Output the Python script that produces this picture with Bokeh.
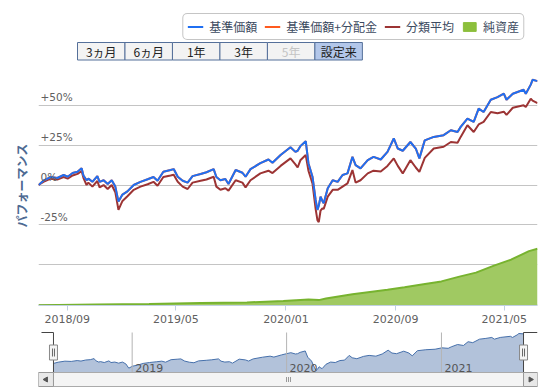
import math
import pandas as pd
from bokeh.plotting import figure
from bokeh.models import (Range1d, FixedTicker, Legend, LegendItem, Title, ColumnDataSource, Grid)
from bokeh.layouts import column
from bokeh.embed import file_html
from bokeh.resources import INLINE
from bokeh.core.properties import value

# ---------------- data ----------------
series_names = ["基準価額", "基準価額+分配金", "分類平均", "純資産"]
range_buttons = ["3ヵ月", "6ヵ月", "1年", "3年", "5年", "設定来"]
range_button_enabled = [True, True, True, True, False, True]
range_button_selected = "設定来"

perf_dates = [
    "2018-06-29", "2018-07-10", "2018-07-26", "2018-08-10", "2018-08-24", "2018-09-02",
    "2018-09-13", "2018-09-24", "2018-10-03", "2018-10-07", "2018-10-14", "2018-10-18",
    "2018-10-27", "2018-11-07", "2018-11-12", "2018-11-21", "2018-11-30", "2018-12-09",
    "2018-12-17", "2018-12-24", "2019-01-02", "2019-01-13", "2019-01-27", "2019-02-11",
    "2019-02-27", "2019-03-12", "2019-03-21", "2019-04-03", "2019-04-19", "2019-04-26",
    "2019-05-05", "2019-05-16", "2019-05-27", "2019-06-07", "2019-06-25", "2019-07-08",
    "2019-07-24", "2019-07-30", "2019-08-08", "2019-08-19", "2019-08-26", "2019-09-11",
    "2019-09-26", "2019-10-03", "2019-10-14", "2019-11-05", "2019-11-23", "2019-12-02",
    "2019-12-20", "2020-01-11", "2020-01-22", "2020-01-27", "2020-02-02", "2020-02-14",
    "2020-02-20", "2020-02-29", "2020-03-07", "2020-03-11", "2020-03-14", "2020-03-18",
    "2020-03-22", "2020-03-25", "2020-04-03", "2020-04-14", "2020-04-25", "2020-05-06",
    "2020-05-17", "2020-05-28", "2020-06-04", "2020-06-15", "2020-07-01", "2020-07-14",
    "2020-07-30", "2020-08-14", "2020-08-28", "2020-09-06", "2020-09-17", "2020-10-04",
    "2020-10-16", "2020-10-24", "2020-11-05", "2020-11-25", "2020-12-17", "2021-01-02",
    "2021-01-17", "2021-01-24", "2021-02-08", "2021-02-22", "2021-03-05", "2021-03-16",
    "2021-04-01", "2021-04-16", "2021-04-30", "2021-05-06", "2021-05-20", "2021-06-13",
    "2021-06-18", "2021-06-29", "2021-07-03", "2021-07-14",
]
# 基準価額 performance (%)
base_price_perf = [
    0.0, 2.7, 5.0, 4.4, 6.3, 5.2,
    7.5, 8.3, 10.6, 6.0, 3.0, 4.0,
    2.0, 5.6, 2.0, 3.0, 0.6, 3.0,
    -1.0, -10.4, -6.0, -4.0, 0.0, 2.0,
    3.6, 5.0, 2.7, 8.3, 9.4, 10.0,
    5.2, 2.7, 1.5, 5.6, 6.9, 8.0,
    10.0, 5.0, 3.0, 3.8, 0.6, 9.4,
    7.7, 5.2, 10.0, 13.7, 16.0, 14.0,
    18.8, 23.7, 20.8, 21.5, 24.4, 27.5,
    13.7, 5.2, -9.4, -15.6, -13.0, -7.3,
    -10.0, -11.5, -2.0, 3.0, 2.0, 6.3,
    7.3, 17.7, 12.5, 10.4, 15.6, 17.7,
    16.0, 20.8, 29.2, 22.9, 21.5, 27.0,
    22.9, 16.7, 28.0, 30.2, 31.3, 34.4,
    33.3, 36.5, 41.7, 39.6, 47.9, 45.8,
    53.5, 55.2, 57.3, 53.5, 57.3, 59.8,
    57.3, 63.0, 66.0, 65.2,
]
# 基準価額+分配金 (no distributions paid: same as 基準価額, hidden beneath it)
base_plus_dist_perf = list(base_price_perf)
# 分類平均 performance (%)
category_avg_perf = [
    0.0, 2.0, 4.0, 3.5, 5.0, 4.0,
    6.0, 7.0, 8.8, 4.5, 0.0, 1.5,
    -1.0, 2.5, -1.5, 0.0, -2.5, 0.0,
    -4.5, -15.6, -10.0, -7.0, -3.0, -1.0,
    0.5, 2.0, -0.5, 5.0, 6.0, 6.5,
    2.0, -1.0, -2.5, 1.5, 2.7, 3.5,
    5.2, -1.0, -3.0, -2.0, -3.5, 3.0,
    1.5, -1.5, 3.0, 7.3, 9.0, 7.5,
    12.0, 16.7, 13.0, 11.0, 15.5, 18.8,
    9.0, 1.0, -15.0, -22.0, -23.3, -16.0,
    -14.6, -15.0, -7.3, -3.0, -3.0, -1.0,
    1.0, 9.4, 1.5, 3.0, 7.3, 9.0,
    8.5, 12.0, 16.7, 12.0, 7.3, 15.6,
    11.0, 8.3, 17.0, 22.9, 24.0, 27.0,
    26.5, 30.2, 37.5, 33.3, 38.0, 39.6,
    45.8, 45.0, 46.0, 44.0, 48.5, 50.0,
    49.0, 54.2, 53.0, 51.4,
]

net_asset_dates = [
    "2018-06-29", "2018-11-05", "2019-03-02", "2019-06-25", "2019-10-06", "2019-12-26",
    "2020-02-02", "2020-02-20", "2020-03-14", "2020-03-30", "2020-05-28", "2020-08-14",
    "2020-09-21", "2020-11-02", "2020-12-12", "2021-01-21", "2021-02-27", "2021-04-08",
    "2021-05-16", "2021-06-25", "2021-07-14",
]
net_assets = [  # 純資産 (億円, estimated)
    1, 5, 8, 12, 15, 23,
    28, 30, 27, 35, 56, 79,
    92, 107, 121, 145, 165, 200,
    230, 273, 285,
]

x_tick_dates = ["2018-09-01", "2019-05-01", "2020-01-01", "2020-09-01", "2021-05-01"]
x_tick_labels = ["2018/09", "2019/05", "2020/01", "2020/09", "2021/05"]
y_tick_values = [-25, 0, 25, 50]
y_tick_labels = ["-25%", "0%", "+25%", "+50%"]
y_grid_values = [-75, -50, -25, 0, 25, 50, 75]
nav_year_dates = ["2019-01-01", "2020-01-01", "2021-01-01"]
nav_year_labels = ["2019", "2020", "2021"]

# ---------------- styles ----------------
BLUE = "#1f6ff2"
ORANGE = "#ff5a1e"
BROWN = "#9c3434"
GREEN_FILL = "#a0c962"
GREEN_LINE = "#77b32f"
JP_NAME = "Noto Sans CJK JP"
JP = value(JP_NAME)
NUM = value("DejaVu Sans")
W = 550


def ms(d):
    return pd.Timestamp(d).value / 1e6


dates = pd.to_datetime(perf_dates)
t0, t1 = dates[0], dates[-1]

# ---------------- header (legend + range buttons) ----------------
HH = 61
h = figure(width=W, height=HH, x_range=Range1d(0, W), y_range=Range1d(HH, 0),
           min_border_left=0, min_border_right=0, min_border_top=0, min_border_bottom=0,
           toolbar_location=None, output_backend="svg",
           x_axis_location=None, y_axis_location=None)
h.grid.visible = False
h.outline_line_color = None

bw = 52.33
bx0 = 43
centers = [bx0 + bw * (i + 0.5) for i in range(len(range_buttons))]
fills = ["#b3c7ea" if b == range_button_selected else "#f3f3f3" for b in range_buttons]
tcols = ["#222222" if en else "#c4c4c4" for en in range_button_enabled]
h.rect(x=centers, y=[50.75] * len(centers), width=bw, height=17.5,
       fill_color=fills, line_color="#55709a", line_width=1)
h.text(x=centers, y=[51.2] * len(centers), text=range_buttons, text_align="center",
       text_baseline="middle", text_font=JP, text_font_size="12px", text_color=tcols)

# legend sample glyphs (kept outside the visible header range)
r1 = h.line(x=[-60, -50], y=[-60, -60], line_color=BLUE, line_width=2)
r2 = h.line(x=[-60, -50], y=[-60, -60], line_color=ORANGE, line_width=2)
r3 = h.line(x=[-60, -50], y=[-60, -60], line_color=BROWN, line_width=2)
r4 = h.quad(left=[-60], right=[-50], top=[-60], bottom=[-70],
            fill_color="#8cbf3c", line_color="#8cbf3c")
legend = Legend(items=[LegendItem(label=series_names[0], renderers=[r1]),
                       LegendItem(label=series_names[1], renderers=[r2]),
                       LegendItem(label=series_names[2], renderers=[r3]),
                       LegendItem(label=series_names[3], renderers=[r4])],
                orientation="horizontal", location="top_right", margin=13,
                padding=4, spacing=7, glyph_width=16, glyph_height=11,
                label_standoff=6, label_height=12, label_width=10,
                label_text_font=JP_NAME, label_text_font_size="12px", label_text_color="#3c4a60",
                border_line_color="#8c8c8c", border_line_width=1,
                background_fill_color="white", background_fill_alpha=1.0)
try:
    legend.border_radius = 5
except Exception:
    pass
h.add_layout(legend)

# ---------------- main chart ----------------
m = figure(width=W, height=267, x_axis_type="datetime",
           x_range=Range1d(t0, t1), y_range=Range1d(-75.6, 75),
           min_border_left=38, min_border_right=13, min_border_top=4, min_border_bottom=22,
           toolbar_location=None, output_backend="svg", y_axis_location=None)
m.outline_line_color = None
m.grid.visible = False
m.add_layout(Grid(dimension=1, ticker=FixedTicker(ticks=y_grid_values),
                  grid_line_color="#c4c4c4", grid_line_width=1))
m.extra_y_ranges = {"assets": Range1d(0, 1205)}

asset_src = ColumnDataSource(dict(date=pd.to_datetime(net_asset_dates), assets=net_assets,
                                  zero=[0] * len(net_assets)))
m.varea(x="date", y1="zero", y2="assets", source=asset_src, y_range_name="assets",
        fill_color=GREEN_FILL)
m.line(x="date", y="assets", source=asset_src, y_range_name="assets",
       line_color=GREEN_LINE, line_width=2)

perf_src = ColumnDataSource(dict(date=dates, base=base_price_perf,
                                 dist=base_plus_dist_perf, cat=category_avg_perf))
m.line(x="date", y="cat", source=perf_src, line_color=BROWN, line_width=2)
m.line(x="date", y="dist", source=perf_src, line_color=ORANGE, line_width=2)
m.line(x="date", y="base", source=perf_src, line_color=BLUE, line_width=2)

ylab_src = ColumnDataSource(dict(x=[t0] * len(y_tick_values), y=y_tick_values, t=y_tick_labels))
m.text(x="x", y="y", text="t", source=ylab_src, x_offset=2, y_offset=-2,
       text_baseline="bottom", text_align="left", text_font=NUM,
       text_font_size="10.5px", text_color="#606060")

m.xaxis.ticker = FixedTicker(ticks=[ms(d) for d in x_tick_dates])
m.xaxis.major_label_overrides = {int(ms(d)): lab for d, lab in zip(x_tick_dates, x_tick_labels)}
m.xaxis.axis_line_color = "#c0d0e0"
m.xaxis.major_tick_line_color = "#c0d0e0"
m.xaxis.major_tick_out = 5
m.xaxis.major_tick_in = 0
m.xaxis.minor_tick_line_color = None
m.xaxis.major_label_standoff = 2
m.xaxis.major_label_text_font = "DejaVu Sans"
m.xaxis.major_label_text_font_size = "11px"
m.xaxis.major_label_text_color = "#606060"

m.add_layout(Title(text="パフォーマンス", align="center", offset=20, standoff=17,
                   text_font=JP_NAME, text_font_size="12px",
                   text_font_style="bold", text_color="#4d6a92"), "left")

# ---------------- navigator + scrollbar ----------------
NH = 61
nv = figure(width=W, height=NH, x_range=Range1d(0, 500), y_range=Range1d(NH, 0),
            min_border_left=37, min_border_right=13, min_border_top=0, min_border_bottom=0,
            toolbar_location=None, output_backend="svg",
            x_axis_location=None, y_axis_location=None)
nv.grid.visible = False
nv.outline_line_color = None
kx = (ms(t1) - ms(t0)) / 471.0
lo, hi = min(base_price_perf), max(base_price_perf)
ky = (hi - lo) / 37.0
nv.extra_x_ranges = {"t": Range1d(ms(t0) - 15 * kx, ms(t1) + 14 * kx)}
nv.extra_y_ranges = {"v": Range1d(lo - (NH - 42) * ky, hi + 5 * ky)}
base_line = lo - 2 * ky

nav_src = ColumnDataSource(dict(date=dates, base=base_price_perf,
                                floor=[base_line] * len(base_price_perf)))
nv.varea(x="date", y1="floor", y2="base", source=nav_src, x_range_name="t", y_range_name="v",
         fill_color="#b2c2da")
nv.line(x="date", y="base", source=nav_src, x_range_name="t", y_range_name="v",
        line_color="#4670ab", line_width=1)
yr = pd.to_datetime(nav_year_dates)
nv.segment(x0=yr, y0=[base_line] * 3, x1=yr, y1=[hi + 1 * ky] * 3, x_range_name="t",
           y_range_name="v", line_color="#b4b4b4", line_width=1)
nv.text(x=yr, y=[base_line] * 3, text=nav_year_labels, x_range_name="t", y_range_name="v",
        x_offset=3, y_offset=-1, text_baseline="bottom", text_font=NUM,
        text_font_size="11px", text_color="#555555")

# outline
nv.line(x=[3, 15, 15], y=[4, 4, 44], line_color="#444444", line_width=1)
nv.line(x=[486, 486, 500], y=[44, 4, 4], line_color="#444444", line_width=1)
# scrollbar
nv.quad(left=[0], right=[500], top=[44], bottom=[58], fill_color="#eeeeee", line_color="#bbbbbb")
nv.quad(left=[15], right=[486], top=[44], bottom=[58], fill_color="#f4f4f4", line_color="#aaaaaa")
nv.quad(left=[0, 486], right=[15, 500], top=[44, 44], bottom=[58, 58],
        fill_color="#e8e8e8", line_color="#999999")
nv.scatter(x=[7.5, 493], y=[51, 51], marker="triangle", size=5,
           angle=[math.pi / 2, -math.pi / 2], fill_color="#555555", line_color="#555555")
nv.segment(x0=[248.5, 250.5, 252.5], y0=[48.5] * 3, x1=[248.5, 250.5, 252.5], y1=[53.5] * 3,
           line_color="#999999")
# handles
nv.rect(x=[15, 486], y=[24, 24], width=8, height=15, fill_color="#f4f4f4", line_color="#888888")
nv.segment(x0=[14, 16, 485, 487], y0=[20] * 4, x1=[14, 16, 485, 487], y1=[28] * 4,
           line_color="#666666")

layout = column(h, m, nv, spacing=0)
open("out.html", "w").write(file_html(layout, INLINE))
